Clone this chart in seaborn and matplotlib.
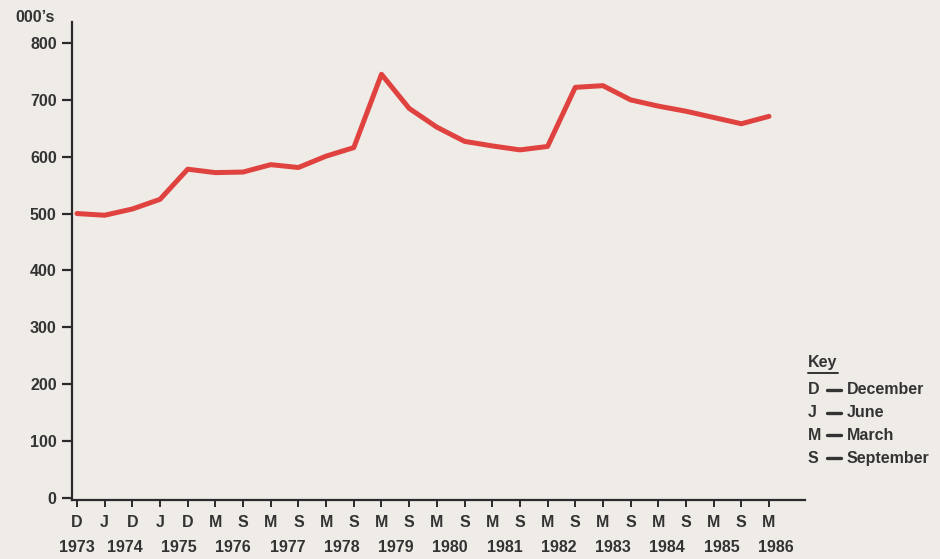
import matplotlib
matplotlib.use("Agg")
import matplotlib.pyplot as plt
from matplotlib.lines import Line2D
import seaborn as sns
import pandas as pd

# ── Data ─────────────────────────────────────────────────────────────
MONTHS = ["D", "J", "D", "J", "D", "M", "S", "M", "S", "M", "S", "M", "S",
          "M", "S", "M", "S", "M", "S", "M", "S", "M", "S", "M", "S", "M"]
VALUES = [500, 497, 508, 525, 578, 572, 573, 586, 581, 601, 616, 745, 685,
          652, 627, 619, 612, 618, 722, 725, 700, 689, 680, 669, 658, 671]
YEARS = ["1973", "1974", "1975", "1976", "1977", "1978", "1979", "1980",
         "1981", "1982", "1983", "1984", "1985", "1986"]
KEY = [("D", "December"), ("J", "June"), ("M", "March"), ("S", "September")]

BG = "#efebe7"
RED = "#e0433f"
INK = "#333333"
FS = 11.5

sns.set_style("ticks")
plt.rcParams.update({
    "font.family": ["Liberation Sans", "DejaVu Sans"],
    "figure.facecolor": BG,
    "axes.facecolor": BG,
    "savefig.facecolor": BG,
})

df = pd.DataFrame({"pos": range(len(VALUES)), "value": VALUES})

fig = plt.figure(figsize=(9.4, 5.59), dpi=100)
ax = fig.add_axes([72 / 940, 1 - 500 / 559, (805 - 72) / 940, (500 - 22) / 559])

sns.lineplot(data=df, x="pos", y="value", color=RED, linewidth=3.6, ax=ax)

ax.set_xlim(-0.18, 26.3)
ax.set_ylim(-4, 837)
ax.set_xlabel("")
ax.set_ylabel("")

for side in ["top", "right"]:
    ax.spines[side].set_visible(False)
for side in ["left", "bottom"]:
    ax.spines[side].set_color("#2a2a2a")
    ax.spines[side].set_linewidth(1.6)

ax.set_yticks(range(0, 900, 100))
ax.tick_params(axis="y", length=7, width=1.6, color="#2a2a2a", pad=4,
               labelsize=FS, labelcolor=INK)
ax.set_xticks(range(len(MONTHS)))
ax.set_xticklabels(MONTHS)
ax.tick_params(axis="x", length=5, width=1.4, color="#2a2a2a", pad=6,
               labelsize=FS, labelcolor=INK)
for lab in ax.get_xticklabels() + ax.get_yticklabels():
    lab.set_fontweight("bold")

# year labels under the month letters
year_pos = [0] + [1.72 + 1.96 * k for k in range(len(YEARS) - 1)]
for xp, yr in zip(year_pos, YEARS):
    ax.text(xp, -0.1, yr, transform=ax.get_xaxis_transform(), ha="center",
            va="center", fontsize=FS, fontweight="bold", color=INK)

fig.text(15 / 940, 1 - 17 / 559, "000\u2019s", fontsize=FS,
         fontweight="bold", color=INK, va="center", ha="left")

# key
fig.text(808 / 940, 1 - 362 / 559, "Key", fontsize=FS, fontweight="bold",
         color=INK, va="center", ha="left")
fig.add_artist(Line2D([808 / 940, 838 / 940], [1 - 373 / 559, 1 - 373 / 559],
                      color=INK, linewidth=1.4))
for i, (abbr, name) in enumerate(KEY):
    y = 1 - (390 + 22.7 * i) / 559
    fig.text(808 / 940, y, abbr, fontsize=FS, fontweight="bold", color=INK,
             va="center", ha="left")
    fig.add_artist(Line2D([827 / 940, 841 / 940], [y, y], color=INK,
                          linewidth=2.4))
    fig.text(847 / 940, y, name, fontsize=FS, fontweight="bold", color=INK,
             va="center", ha="left")

plt.savefig("out.png", dpi=100, facecolor=BG)
